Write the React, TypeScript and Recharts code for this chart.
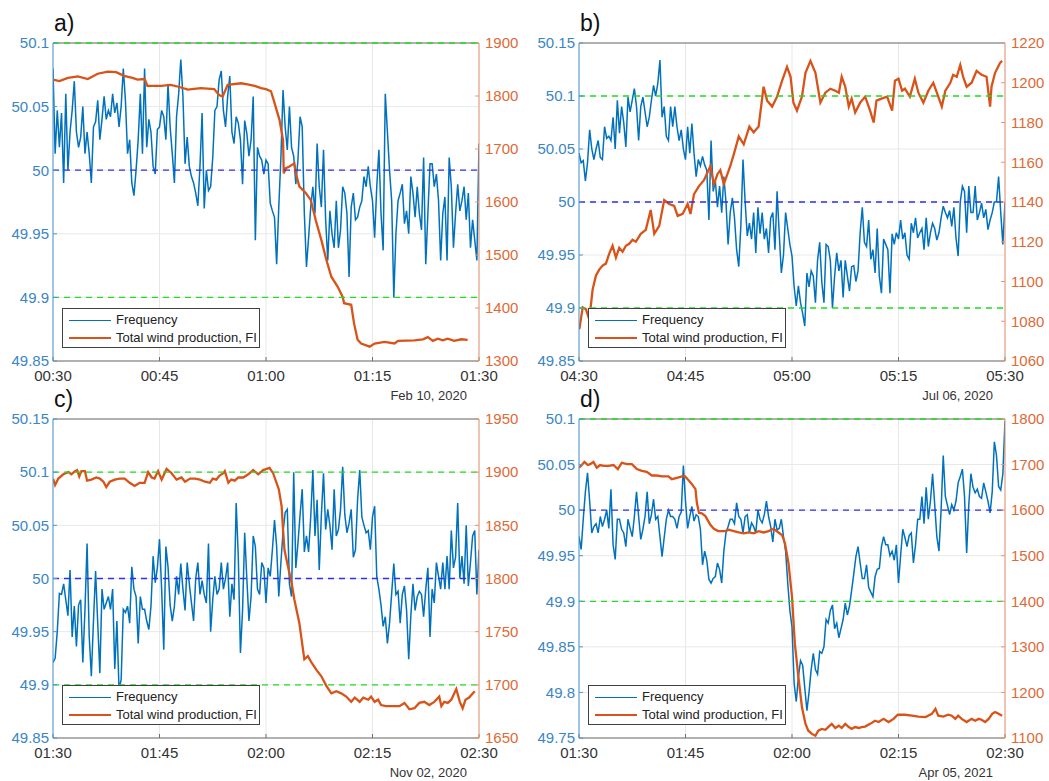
import React from 'react';
import { ComposedChart, Line, XAxis, YAxis, CartesianGrid, ReferenceLine } from 'recharts';

// ---------- data ----------
const FREQ_STEP_MIN = 0.3; // frequency samples every 0.3 min
const timeTicks = [0, 15, 30, 45, 60];

const xLabelsA = ['00:30', '00:45', '01:00', '01:15', '01:30'];
const xLabelsB = ['04:30', '04:45', '05:00', '05:15', '05:30'];
const xLabelsC = ['01:30', '01:45', '02:00', '02:15', '02:30'];
const xLabelsD = ['01:30', '01:45', '02:00', '02:15', '02:30'];

const freqTicksA = [49.85, 49.9, 49.95, 50, 50.05, 50.1];
const freqTicksB = [49.85, 49.9, 49.95, 50, 50.05, 50.1, 50.15];
const freqTicksC = [49.85, 49.9, 49.95, 50, 50.05, 50.1, 50.15];
const freqTicksD = [49.75, 49.8, 49.85, 49.9, 49.95, 50, 50.05, 50.1];

const windTicksA = [1300, 1400, 1500, 1600, 1700, 1800, 1900];
const windTicksB = [1060, 1080, 1100, 1120, 1140, 1160, 1180, 1200, 1220];
const windTicksC = [1650, 1700, 1750, 1800, 1850, 1900, 1950];
const windTicksD = [1100, 1200, 1300, 1400, 1500, 1600, 1700, 1800];

const freqA = [
  50.08, 50.013, 50.047, 50.018, 50.045, 49.99, 50.06, 50.0, 50.03, 50.047,
  50.07, 50.03, 50.018, 50.026, 50.05, 50.013, 50.03, 50.013, 49.99, 50.034,
  50.038, 50.055, 50.024, 50.04, 50.058, 50.04, 50.047, 50.042, 50.06, 50.045,
  50.053, 50.034, 50.05, 50.08, 50.055, 50.013, 50.024, 49.99, 49.98, 50.0,
  50.024, 50.06, 50.013, 50.08, 50.018, 50.04, 50.03, 50.003, 49.997, 50.032,
  50.034, 50.047, 50.042, 50.024, 50.068, 50.034, 50.013, 49.99, 50.042, 50.06,
  50.087, 50.058, 50.005, 50.026, 50.003, 49.995, 49.99, 49.982, 49.972, 50.003,
  50.045, 49.97, 50.0, 49.984, 49.987, 50.01, 50.047, 50.05, 50.071, 50.078,
  50.047, 50.034, 50.058, 50.074, 50.03, 50.021, 50.042, 50.037, 50.024, 49.989,
  50.039, 50.029, 50.011, 50.024, 50.058, 49.945, 50.018, 50.011, 50.008, 49.997,
  50.008, 50.005, 49.974, 49.968, 49.963, 49.926, 49.971, 50.01, 50.063, 50.034,
  50.016, 50.05, 50.018, 50.011, 49.989, 50.008, 50.042, 50.034, 49.966, 49.924,
  49.947, 49.971, 49.987, 49.966, 50.021, 49.987, 49.971, 50.016, 49.961, 49.929,
  49.968, 49.95, 49.939, 49.976, 49.939, 49.953, 49.987, 49.982, 49.966, 49.916,
  49.971, 49.982, 49.961, 49.963, 49.971, 49.976, 49.995, 49.987, 50.003, 49.987,
  49.976, 49.947, 49.987, 50.016, 49.966, 49.937, 50.06, 50.03, 50.0, 49.976,
  49.9, 49.95, 49.976, 49.982, 49.989, 49.958, 49.968, 49.95, 49.995, 49.982,
  49.963, 49.987, 49.966, 49.953, 50.01, 49.926, 49.966, 50.005, 50.005, 49.987,
  49.997, 49.976, 49.929, 49.966, 49.979, 49.929, 50.01, 49.987, 49.939, 49.966,
  49.989, 49.968, 49.976, 49.987, 49.961, 49.982, 49.939, 49.961, 49.945, 49.929,
  50.021,
];

const freqB = [
  50.046, 50.037, 50.039, 50.02, 50.037, 50.068, 50.05, 50.04, 50.05, 50.058,
  50.042, 50.04, 50.071, 50.06, 50.062, 50.058, 50.08, 50.05, 50.096, 50.065,
  50.09, 50.075, 50.052, 50.099, 50.085, 50.096, 50.107, 50.09, 50.058, 50.09,
  50.099, 50.085, 50.071, 50.08, 50.096, 50.11, 50.1, 50.112, 50.134, 50.08,
  50.09, 50.062, 50.058, 50.09, 50.071, 50.09, 50.071, 50.058, 50.068, 50.05,
  50.04, 50.071, 50.046, 50.074, 50.046, 50.024, 50.04, 50.034, 50.043, 50.035,
  50.03, 49.983, 50.058, 50.01, 50.02, 49.995, 50.015, 49.99, 50.024, 50.0,
  49.96, 49.99, 50.004, 49.985, 49.955, 49.939, 49.978, 50.04, 50.0, 49.968,
  49.98, 49.965, 49.99, 49.952, 49.995, 49.97, 49.99, 49.965, 49.975, 49.952,
  49.985, 49.99, 49.955, 50.01, 49.97, 49.933, 49.95, 49.99, 49.975, 49.96,
  49.949, 49.92, 49.902, 49.921, 49.905, 49.895, 49.883, 49.933, 49.92, 49.935,
  49.93, 49.905, 49.945, 49.962, 49.924, 49.905, 49.96, 49.958, 49.945, 49.9,
  49.93, 49.952, 49.935, 49.945, 49.91, 49.945, 49.93, 49.916, 49.939, 49.94,
  49.925, 49.935, 49.971, 49.995, 49.962, 49.958, 49.983, 49.946, 49.955, 49.933,
  49.975, 49.93, 49.914, 49.965, 49.96, 49.955, 49.914, 49.97, 49.96, 49.971,
  49.965, 49.983, 49.965, 49.971, 49.95, 49.946, 49.98, 49.971, 49.985, 49.966,
  49.971, 49.975, 49.955, 49.985, 49.958, 49.971, 49.98, 49.975, 49.964, 49.971,
  49.985, 49.996, 49.99, 49.985, 49.992, 49.977, 49.995, 49.966, 49.949, 50.0,
  50.015, 50.01, 49.971, 50.015, 49.99, 49.99, 50.015, 49.983, 49.99, 49.999,
  49.985, 49.993, 49.974, 49.983, 49.99, 50.0, 50.0, 50.024, 49.99, 49.96,
  50.0,
];

const freqC = [
  49.921, 49.925, 49.95, 49.986, 49.985, 49.995, 49.98, 49.965, 50.008, 49.945,
  49.974, 49.936, 49.975, 49.98, 49.921, 49.97, 50.033, 49.946, 49.908, 49.96,
  50.007, 49.958, 49.911, 49.99, 49.971, 49.977, 49.983, 49.971, 49.99, 49.915,
  49.96, 49.895, 49.905, 49.971, 49.968, 49.974, 49.958, 50.011, 49.99, 49.983,
  49.939, 49.983, 49.971, 49.971, 49.96, 49.952, 49.974, 50.021, 49.996, 50.01,
  50.037, 49.99, 49.933, 50.03, 50.011, 49.975, 49.96, 49.974, 50.002, 49.985,
  50.014, 49.99, 49.97, 50.015, 49.995, 49.977, 49.96, 50.0, 50.015, 49.985,
  49.998, 49.985, 49.977, 50.033, 49.95, 49.98, 50.002, 49.985, 49.99, 50.015,
  49.99, 50.0, 50.015, 49.964, 49.995, 49.98, 50.071, 50.02, 49.93, 49.97,
  50.043, 50.0, 49.96, 49.983, 50.04, 50.03, 49.99, 49.985, 50.015, 50.01,
  49.977, 50.01, 50.002, 50.027, 50.055, 50.03, 49.983, 50.015, 50.044, 50.062,
  50.065, 49.995, 49.983, 50.1, 50.01, 50.033, 50.06, 50.084, 50.025, 50.04,
  50.025, 50.058, 50.102, 50.04, 50.074, 50.008, 50.06, 50.099, 50.046, 50.065,
  50.05, 50.027, 50.084, 50.04, 50.046, 50.065, 50.105, 50.06, 50.043, 50.052,
  50.065, 50.02, 50.027, 50.074, 50.102, 50.058, 50.05, 50.043, 50.045, 50.027,
  50.058, 50.068, 50.002, 49.99, 49.975, 49.955, 49.964, 49.939, 49.958, 49.986,
  50.014, 49.985, 49.988, 49.958, 49.985, 49.993, 49.97, 49.924, 49.965, 49.995,
  49.97, 49.983, 49.988, 49.985, 49.964, 49.99, 50.01, 49.945, 49.99, 49.977,
  50.015, 50.002, 49.99, 50.015, 49.99, 50.021, 49.99, 50.045, 50.01, 50.02,
  50.071, 50.0, 50.021, 49.995, 50.05, 49.993, 50.015, 50.04, 50.045, 49.985,
  50.027,
];

const freqD = [
  49.971, 49.957, 49.99, 50.02, 50.041, 50.01, 49.975, 49.982, 49.985, 49.975,
  49.993, 49.982, 49.99, 50.0, 49.98, 50.023, 49.962, 49.946, 49.99, 49.99,
  49.979, 49.975, 49.96, 49.99, 49.98, 49.971, 49.993, 50.02, 49.993, 49.968,
  49.979, 49.993, 50.02, 49.985, 49.995, 50.012, 49.99, 49.993, 49.971, 49.949,
  49.97, 49.99, 50.0, 49.993, 49.993, 49.99, 49.98, 49.993, 49.998, 50.049,
  50.01, 49.98, 49.993, 50.004, 49.988, 49.995, 49.993, 49.979, 49.94, 49.955,
  49.945, 49.924, 49.92, 49.925, 49.927, 49.942, 49.935, 49.92, 49.955, 49.975,
  49.982, 49.99, 49.99, 49.985, 50.008, 49.993, 49.99, 49.975, 49.993, 49.995,
  49.975, 49.986, 49.982, 49.975, 50.0, 49.99, 49.986, 49.995, 50.01, 49.993,
  49.982, 49.965, 49.99, 49.978, 49.98, 49.99, 49.971, 49.955, 49.92, 49.89,
  49.872, 49.81, 49.79, 49.817, 49.835, 49.83, 49.805, 49.78, 49.8, 49.825,
  49.843, 49.825, 49.82, 49.845, 49.843, 49.85, 49.88, 49.876, 49.89, 49.896,
  49.87, 49.876, 49.86, 49.87, 49.88, 49.898, 49.885, 49.895, 49.912, 49.93,
  49.949, 49.96, 49.942, 49.925, 49.925, 49.94, 49.915, 49.91, 49.905, 49.927,
  49.935, 49.936, 49.96, 49.971, 49.962, 49.962, 49.95, 49.955, 49.945, 49.962,
  49.92, 49.95, 49.979, 49.97, 49.96, 49.972, 49.975, 49.942, 49.962, 49.99,
  49.99, 50.015, 49.985, 50.025, 49.99, 50.01, 50.04, 50.006, 49.971, 49.955,
  50.0, 50.06, 50.015, 50.005, 49.995, 50.006, 50.0, 50.01, 50.03, 50.037,
  50.045, 50.015, 49.953, 50.006, 50.04, 50.025, 50.019, 50.023, 50.015, 50.013,
  50.03, 50.02, 50.01, 49.997, 50.02, 50.075, 50.06, 50.026, 50.022, 50.04,
  50.098,
];

// wind production (MW): minutes after start, values
const windTimeA = [
  0, 0.9, 2.1, 3.5, 4.9, 6.3, 7.7, 8.9, 10.0, 11.2,
  11.9, 12.9, 13.3, 15.2, 16.6, 17.8, 19.0, 20.8, 22.7, 23.4,
  23.9, 24.6, 26.5, 27.4, 28.4, 29.3, 30.0, 30.7, 31.2, 31.9,
  32.4, 32.5, 32.8, 33.3, 34.0, 34.2, 34.7, 35.6, 36.3, 37.0,
  37.8, 38.5, 39.2, 40.1, 40.8, 41.0, 42.0, 42.4, 42.9, 43.4,
  44.6, 45.3, 46.7, 48.1, 48.6, 50.9, 52.1, 52.8, 53.5, 54.2,
  54.9, 55.6, 56.5, 57.5, 58.4,
];
const windA = [
  1831, 1828, 1834, 1837, 1832, 1842, 1846, 1845, 1838, 1834,
  1831, 1832, 1819, 1819, 1821, 1817, 1812, 1815, 1813, 1802,
  1799, 1821, 1824, 1822, 1819, 1815, 1813, 1809, 1787, 1755,
  1717, 1654, 1664, 1667, 1673, 1654, 1629, 1617, 1604, 1566,
  1528, 1491, 1459, 1440, 1421, 1409, 1406, 1371, 1340, 1333,
  1327, 1333, 1336, 1333, 1338, 1339, 1341, 1345, 1338, 1342,
  1339, 1342, 1338, 1341, 1340,
];

const windTimeB = [
  0.05, 0.52, 0.98, 1.45, 1.92, 2.39, 2.85, 3.32, 3.79, 4.26,
  4.73, 5.2, 5.67, 6.14, 6.6, 7.07, 7.54, 8.0, 8.7, 9.41,
  10.1, 10.6, 11.3, 12.0, 12.7, 13.4, 13.9, 14.6, 15.3, 15.7,
  16.2, 16.9, 17.6, 18.5, 19.0, 19.5, 19.9, 20.4, 21.3, 21.8,
  22.5, 23.2, 24.0, 24.6, 25.3, 26.0, 26.5, 27.2, 27.9, 28.6,
  29.3, 29.8, 30.2, 30.7, 31.4, 31.9, 32.6, 33.3, 34.0, 34.7,
  35.4, 36.1, 36.6, 37.0, 37.5, 38.0, 38.4, 38.9, 39.6, 40.3,
  41.0, 41.5, 41.9, 42.6, 43.4, 44.1, 44.5, 45.0, 45.5, 45.9,
  46.6, 47.3, 47.8, 48.5, 49.2, 49.9, 50.4, 51.1, 51.6, 52.3,
  52.7, 53.2, 53.7, 54.1, 54.6, 55.3, 56.0, 56.7, 57.4, 57.9,
  58.1, 58.6, 59.3, 59.6,
];
const windB = [
  1076, 1087, 1086, 1081, 1096, 1103, 1106, 1108, 1109, 1114,
  1118, 1112, 1117, 1115, 1118, 1119, 1121, 1120, 1124, 1126,
  1136, 1124, 1128, 1141, 1139, 1138, 1133, 1134, 1139, 1134,
  1144, 1148, 1151, 1158, 1149, 1154, 1156, 1149, 1158, 1164,
  1173, 1169, 1178, 1175, 1178, 1198, 1191, 1188, 1193, 1201,
  1208, 1203, 1190, 1186, 1193, 1205, 1211, 1205, 1190, 1195,
  1197, 1196, 1195, 1203, 1198, 1188, 1192, 1185, 1190, 1193,
  1186, 1180, 1191, 1192, 1193, 1186, 1201, 1202, 1196, 1197,
  1193, 1202, 1195, 1190, 1196, 1200, 1195, 1188, 1196, 1200,
  1204, 1203, 1209, 1203, 1198, 1200, 1206, 1204, 1203, 1188,
  1198, 1205, 1210, 1211,
];

const windTimeC = [
  0, 0.3, 0.75, 1.45, 2.16, 2.6, 3.1, 3.4, 3.7, 4.0,
  4.5, 4.8, 5.4, 6.1, 6.6, 7.1, 7.5, 8.0, 8.7, 9.4,
  10.1, 10.8, 11.5, 12.2, 12.9, 13.4, 13.9, 14.3, 14.8, 15.3,
  16.0, 16.7, 17.4, 18.1, 18.6, 19.3, 20.0, 20.7, 21.4, 22.1,
  22.5, 23.0, 23.5, 24.0, 24.2, 24.7, 25.1, 25.6, 26.1, 26.8,
  27.5, 28.2, 28.9, 29.6, 30.5, 31.0, 31.8, 32.2, 32.4, 32.6,
  33.1, 33.6, 34.0, 34.7, 35.4, 35.9, 36.4, 37.1, 37.8, 38.5,
  39.2, 39.9, 40.6, 41.3, 42.0, 42.5, 43.2, 43.7, 44.4, 44.8,
  45.3, 45.8, 46.2, 46.9, 47.9, 48.8, 49.5, 50.2, 50.9, 51.6,
  52.3, 53.0, 53.7, 54.4, 54.7, 55.1, 55.6, 56.1, 56.8, 57.3,
  57.7, 58.1, 58.6, 59.4,
];
const windC = [
  1894, 1888, 1894, 1898, 1900, 1898, 1901, 1902, 1896, 1901,
  1901, 1892, 1893, 1895, 1894, 1891, 1886, 1891, 1893, 1894,
  1894, 1890, 1887, 1890, 1890, 1900, 1895, 1894, 1901, 1893,
  1903, 1899, 1893, 1895, 1891, 1894, 1894, 1893, 1891, 1890,
  1894, 1893, 1897, 1899, 1901, 1890, 1893, 1892, 1895, 1895,
  1898, 1902, 1898, 1902, 1904, 1899, 1884, 1868, 1846, 1827,
  1811, 1796, 1780, 1758, 1724, 1727, 1721, 1714, 1708, 1699,
  1692, 1694, 1692, 1689, 1684, 1688, 1684, 1688, 1686, 1689,
  1684, 1686, 1681, 1680, 1680, 1680, 1683, 1677, 1678, 1683,
  1684, 1681, 1684, 1689, 1680, 1684, 1683, 1686, 1696, 1684,
  1678, 1686, 1688, 1694,
];

const windTimeD = [
  0, 0.4, 0.77, 1.24, 1.57, 2.04, 2.5, 2.98, 3.45, 4.15,
  4.86, 5.47, 6.03, 6.74, 7.44, 8.15, 8.85, 9.55, 10.26, 10.96,
  11.67, 12.6, 13.07, 13.8, 14.5, 14.95, 15.4, 15.9, 16.4, 16.6,
  16.9, 17.3, 17.8, 18.5, 19.0, 19.6, 20.6, 21.1, 21.8, 22.5,
  23.2, 23.9, 24.6, 25.3, 26.0, 26.7, 27.4, 28.1, 28.6, 29.0,
  29.5, 30.0, 30.4, 30.9, 31.4, 31.9, 32.3, 32.8, 33.3, 33.7,
  34.2, 34.7, 35.1, 35.6, 36.1, 36.6, 37.0, 37.5, 38.0, 38.4,
  38.9, 39.4, 39.8, 40.3, 41.0, 41.7, 42.2, 42.9, 43.6, 44.3,
  44.9, 45.9, 46.9, 47.8, 48.8, 49.7, 50.2, 50.6, 51.3, 52.0,
  52.5, 53.0, 53.4, 53.9, 54.6, 55.3, 55.8, 56.3, 56.7, 57.2,
  57.7, 58.2, 58.6, 59.1, 59.6,
];
const windD = [
  1693, 1699, 1706, 1699, 1701, 1706, 1693, 1699, 1697, 1697,
  1699, 1690, 1704, 1701, 1701, 1690, 1686, 1684, 1676, 1676,
  1674, 1674, 1668, 1671, 1674, 1674, 1666, 1657, 1646, 1616,
  1594, 1593, 1587, 1568, 1559, 1554, 1554, 1557, 1554, 1551,
  1549, 1551, 1549, 1554, 1551, 1554, 1559, 1551, 1545, 1528,
  1484, 1410, 1307, 1234, 1168, 1131, 1116, 1109, 1105, 1116,
  1120, 1118, 1124, 1131, 1122, 1127, 1122, 1131, 1124, 1120,
  1124, 1122, 1124, 1125, 1131, 1138, 1135, 1142, 1135, 1142,
  1151, 1151, 1149, 1147, 1146, 1153, 1164, 1149, 1147, 1151,
  1149, 1142, 1149, 1142, 1135, 1142, 1138, 1142, 1140, 1135,
  1142, 1153, 1157, 1153, 1149,
];

// ---------- styling ----------
const FONT = '"Liberation Sans", Arial, Helvetica, sans-serif';
const FREQ_COLOR = '#0072BD';
const WIND_COLOR = '#D95319';
const LEFT_TICK = '#3a86c4';
const RIGHT_TICK = '#dd6a36';
const LEFT_AXIS = '#4d98d4';
const RIGHT_AXIS = '#ec9472';
const BOX = '#6e6e6e';
const GRID = '#e8e8e8';
const GREEN = '#22dd22';
const BLUE_DASH = '#2f2ff0';

const PLOT_W = 426;
const LEFT_W = 53;
const RIGHT_W = 45;
const TOP_M = 10;
const X_H = 30;

type PanelProps = {
  label: string;
  plotLeft: number;
  plotTop: number;
  plotH: number;
  freq: number[];
  windT: number[];
  windV: number[];
  fDomain: [number, number];
  fTicks: number[];
  wDomain: [number, number];
  wTicks: number[];
  xLabels: string[];
  date: string;
};

function Panel(p: PanelProps) {
  const freqData = p.freq.map((f, i) => ({ t: i * FREQ_STEP_MIN, f }));
  const windData = p.windT.map((t, i) => ({ t, w: p.windV[i] }));
  const width = LEFT_W + PLOT_W + RIGHT_W;
  const height = TOP_M + p.plotH + X_H;
  const plotBottom = p.plotTop + p.plotH;
  const plotRight = p.plotLeft + PLOT_W;
  return (
    <>
      <div style={{ position: 'absolute', left: p.plotLeft - LEFT_W, top: p.plotTop - TOP_M }}>
        <ComposedChart width={width} height={height} margin={{ top: TOP_M, right: 0, bottom: 0, left: 0 }}>
          <CartesianGrid yAxisId="f" stroke={GRID} strokeWidth={1} />
          <XAxis
            type="number"
            dataKey="t"
            domain={[0, 60]}
            ticks={timeTicks}
            interval={0}
            allowDataOverflow
            height={X_H}
            tickFormatter={(v: number) => p.xLabels[timeTicks.indexOf(v)] ?? ''}
            axisLine={{ stroke: BOX, strokeWidth: 1 }}
            tickLine={{ stroke: BOX }}
            tickSize={-4}
            tickMargin={13}
            tick={{ fill: '#333333', fontSize: 15, fontFamily: FONT }}
          />
          <YAxis
            yAxisId="f"
            orientation="left"
            type="number"
            domain={p.fDomain}
            ticks={p.fTicks}
            interval={0}
            allowDataOverflow
            width={LEFT_W}
            axisLine={{ stroke: LEFT_AXIS, strokeWidth: 1 }}
            tickLine={{ stroke: LEFT_AXIS }}
            tickSize={-4}
            tickMargin={8}
            tick={{ fill: LEFT_TICK, fontSize: 15, fontFamily: FONT }}
          />
          <YAxis
            yAxisId="w"
            orientation="right"
            type="number"
            domain={p.wDomain}
            ticks={p.wTicks}
            interval={0}
            allowDataOverflow
            width={RIGHT_W}
            axisLine={{ stroke: RIGHT_AXIS, strokeWidth: 1 }}
            tickLine={{ stroke: RIGHT_AXIS }}
            tickSize={-4}
            tickMargin={10}
            tick={{ fill: RIGHT_TICK, fontSize: 15, fontFamily: FONT }}
          />
          <ReferenceLine yAxisId="f" y={p.fDomain[1]} stroke={BOX} strokeWidth={1} />
          <Line
            yAxisId="f"
            data={freqData}
            dataKey="f"
            type="linear"
            stroke={FREQ_COLOR}
            strokeWidth={1.5}
            dot={false}
            isAnimationActive={false}
          />
          <Line
            yAxisId="w"
            data={windData}
            dataKey="w"
            type="linear"
            stroke={WIND_COLOR}
            strokeWidth={2.3}
            dot={false}
            isAnimationActive={false}
          />
          <ReferenceLine yAxisId="f" y={50.1} stroke={GREEN} strokeWidth={1.3} strokeDasharray="6 5" />
          <ReferenceLine yAxisId="f" y={49.9} stroke={GREEN} strokeWidth={1.3} strokeDasharray="6 5" />
          <ReferenceLine yAxisId="f" y={50} stroke={BLUE_DASH} strokeWidth={1.3} strokeDasharray="6 5" />
        </ComposedChart>
      </div>
      {/* legend */}
      <div
        style={{
          position: 'absolute',
          left: p.plotLeft + 9,
          top: plotBottom - 13 - 40,
          width: 198,
          height: 40,
          boxSizing: 'border-box',
          border: '1px solid #404040',
          background: '#ffffff',
          fontFamily: FONT,
          fontSize: 13,
          color: '#222',
        }}
      >
        <div style={{ position: 'absolute', left: 6, top: 11, width: 42, height: 0, borderTop: `1.5px solid ${FREQ_COLOR}` }} />
        <div style={{ position: 'absolute', left: 53, top: 3, lineHeight: '16px' }}>Frequency</div>
        <div style={{ position: 'absolute', left: 6, top: 28, width: 42, height: 0, borderTop: `2.5px solid ${WIND_COLOR}` }} />
        <div style={{ position: 'absolute', left: 53, top: 21, lineHeight: '16px', whiteSpace: 'nowrap' }}>
          Total wind production, FI
        </div>
      </div>
      {/* panel label */}
      <div
        style={{
          position: 'absolute',
          left: p.plotLeft + 1,
          top: p.plotTop - 33,
          fontFamily: FONT,
          fontSize: 23,
          lineHeight: '26px',
          color: '#111',
        }}
      >
        {p.label}
      </div>
      {/* date */}
      <div
        style={{
          position: 'absolute',
          left: plotRight - 12 - 160,
          width: 160,
          top: plotBottom + 27,
          textAlign: 'right',
          fontFamily: FONT,
          fontSize: 13,
          lineHeight: '16px',
          color: '#333',
        }}
      >
        {p.date}
      </div>
    </>
  );
}

export default function App() {
  return (
    <div
      style={{
        position: 'absolute',
        left: 0,
        top: 0,
        width: 1049,
        height: 781,
        background: '#ffffff',
        overflow: 'hidden',
        fontFamily: FONT,
      }}
    >
      <Panel
        label="a)"
        plotLeft={53}
        plotTop={43}
        plotH={318}
        freq={freqA}
        windT={windTimeA}
        windV={windA}
        fDomain={[49.85, 50.1]}
        fTicks={freqTicksA}
        wDomain={[1300, 1900]}
        wTicks={windTicksA}
        xLabels={xLabelsA}
        date="Feb 10, 2020"
      />
      <Panel
        label="b)"
        plotLeft={579}
        plotTop={43}
        plotH={318}
        freq={freqB}
        windT={windTimeB}
        windV={windB}
        fDomain={[49.85, 50.15]}
        fTicks={freqTicksB}
        wDomain={[1060, 1220]}
        wTicks={windTicksB}
        xLabels={xLabelsB}
        date="Jul 06, 2020"
      />
      <Panel
        label="c)"
        plotLeft={53}
        plotTop={419}
        plotH={319}
        freq={freqC}
        windT={windTimeC}
        windV={windC}
        fDomain={[49.85, 50.15]}
        fTicks={freqTicksC}
        wDomain={[1650, 1950]}
        wTicks={windTicksC}
        xLabels={xLabelsC}
        date="Nov 02, 2020"
      />
      <Panel
        label="d)"
        plotLeft={579}
        plotTop={419}
        plotH={319}
        freq={freqD}
        windT={windTimeD}
        windV={windD}
        fDomain={[49.75, 50.1]}
        fTicks={freqTicksD}
        wDomain={[1100, 1800]}
        wTicks={windTicksD}
        xLabels={xLabelsD}
        date="Apr 05, 2021"
      />
    </div>
  );
}
